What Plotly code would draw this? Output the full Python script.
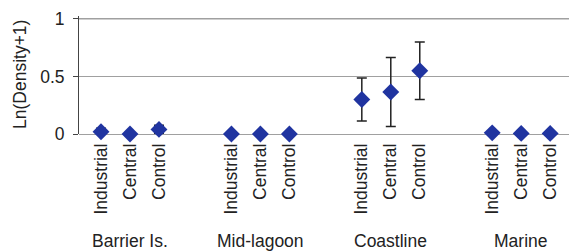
import plotly.graph_objects as go

groups = ["Barrier Is.", "Mid-lagoon", "Coastline", "Marine"]
sites = ["Industrial", "Central", "Control"]
means = [
    [0.02, 0.0, 0.04],
    [0.0, 0.0, 0.0],
    [0.30, 0.365, 0.55],
    [0.01, 0.005, 0.005],
]
errors = [
    [0.03, 0.0, 0.035],
    [0.0, 0.0, 0.0],
    [0.187, 0.30, 0.25],
    [0.0, 0.0, 0.0],
]
y_ticks = [0, 0.5, 1]
y_ticklabels = ["0", "0.5", "1"]

GROUP_STEP = 4.5
GRID = "#a0a0a0"

xs, ys, es, labels = [], [], [], []
for g, grp in enumerate(groups):
    for i, s in enumerate(sites):
        xs.append(g * GROUP_STEP + i)
        ys.append(means[g][i])
        es.append(errors[g][i])
        labels.append(s)

FONT = "Liberation Sans, Arial, sans-serif"
TXT = "#222222"
FS = 17.5

fig = go.Figure()
fig.add_trace(go.Scatter(
    x=xs, y=ys, mode="markers",
    marker=dict(symbol="diamond", size=13, color="#2034a0"),
    error_y=dict(type="data", array=es, visible=True, color="#222222",
                 thickness=1.5, width=5),
    cliponaxis=False,
    showlegend=False,
))

annotations = []
for g, grp in enumerate(groups):
    annotations.append(dict(
        x=g * GROUP_STEP + 1, xref="x", y=-0.91, yref="paper",
        text=grp, showarrow=False, xanchor="center", yanchor="middle",
        font=dict(family=FONT, size=FS, color=TXT),
    ))
annotations.append(dict(
    x=0, xref="paper", xshift=-59, y=0.5, yref="paper",
    text="Ln(Density+1)", textangle=-90, showarrow=False,
    xanchor="center", yanchor="middle",
    font=dict(family=FONT, size=FS, color=TXT),
))

# explicit gridline at the top tick
shapes = [dict(type="line", xref="paper", x0=0, x1=1, yref="y",
               y0=y_ticks[-1], y1=y_ticks[-1],
               line=dict(color=GRID, width=1.2), layer="above")]

fig.update_layout(
    width=569, height=251,
    margin=dict(l=79, r=0, t=16, b=117, autoexpand=False),
    paper_bgcolor="white", plot_bgcolor="white",
    font=dict(family=FONT, size=FS, color=TXT),
    annotations=annotations,
    shapes=shapes,
    xaxis=dict(
        range=[-0.76, 16.15],
        tickmode="array", tickvals=xs, ticktext=labels,
        tickangle=-90, showgrid=False, zeroline=False,
        showline=False, ticks="", ticklabelstandoff=5,
        automargin=False,
        tickfont=dict(family=FONT, size=FS, color=TXT),
    ),
    yaxis=dict(
        range=[0, 1.025],
        tickmode="array", tickvals=y_ticks, ticktext=y_ticklabels,
        showgrid=True, gridcolor=GRID, gridwidth=1,
        zeroline=True, zerolinecolor=GRID, zerolinewidth=1,
        showline=True, linecolor="#444444", linewidth=1,
        ticks="outside", ticklen=5, tickcolor="#444444",
        ticklabelstandoff=5, automargin=False,
        tickfont=dict(family=FONT, size=FS, color=TXT),
    ),
)

fig.write_html("out.html", config={"displayModeBar": False},
               post_script="document.body.style.margin='0';")
